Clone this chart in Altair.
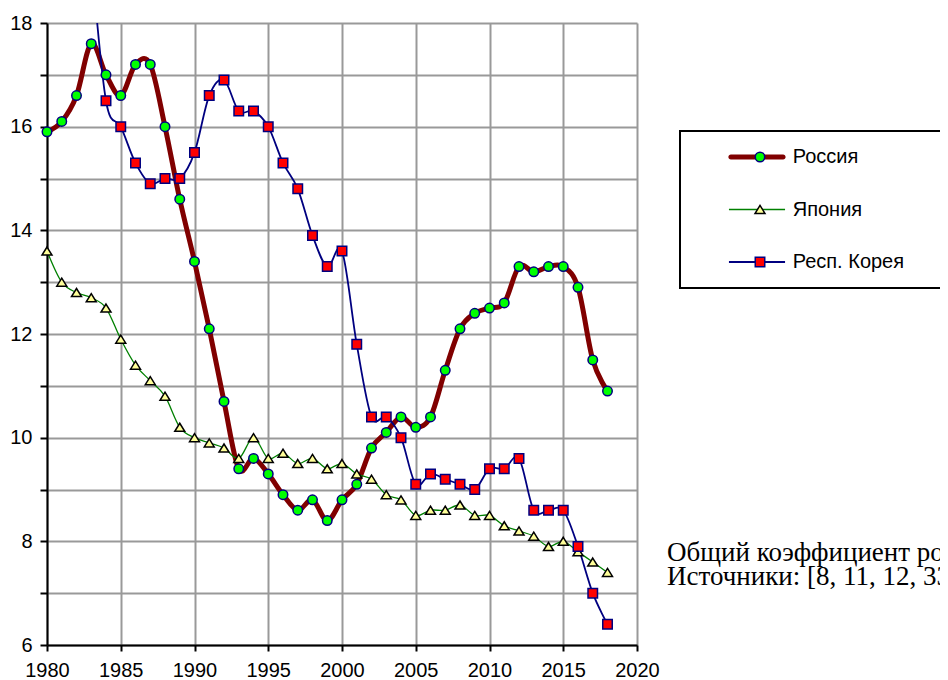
import altair as alt
import pandas as pd

# ---- data ----
years = list(range(1980, 2019))
russia = [15.9, 16.1, 16.6, 17.6, 17.0, 16.6, 17.2, 17.2, 16.0, 14.6,
          13.4, 12.1, 10.7, 9.4, 9.6, 9.3, 8.9, 8.6, 8.8, 8.4,
          8.8, 9.1, 9.8, 10.1, 10.4, 10.2, 10.4, 11.3, 12.1, 12.4,
          12.5, 12.6, 13.3, 13.2, 13.3, 13.3, 12.9, 11.5, 10.9]
japan = [13.6, 13.0, 12.8, 12.7, 12.5, 11.9, 11.4, 11.1, 10.8, 10.2,
         10.0, 9.9, 9.8, 9.6, 10.0, 9.6, 9.7, 9.5, 9.6, 9.4,
         9.5, 9.3, 9.2, 8.9, 8.8, 8.5, 8.6, 8.6, 8.7, 8.5,
         8.5, 8.3, 8.2, 8.1, 7.9, 8.0, 7.8, 7.6, 7.4]
korea_years = list(range(1983, 2019))
korea = [19.3, 16.5, 16.0, 15.3, 14.9, 15.0, 15.0,
         15.5, 16.6, 16.9, 16.3, 16.3, 16.0, 15.3, 14.8, 13.9, 13.3,
         13.6, 11.8, 10.4, 10.4, 10.0, 9.1, 9.3, 9.2, 9.1, 9.0,
         9.4, 9.4, 9.6, 8.6, 8.6, 8.6, 7.9, 7.0, 6.4]
countries = ["Россия", "Япония", "Респ. Корея"]
x_ticks = list(range(1980, 2021, 5))
y_ticks = list(range(6, 19))
note_lines = ["Общий коэффициент рож", "Источники: [8, 11, 12, 33"]

rows = []
for c, ys, vs in [(countries[0], years, russia),
                  (countries[1], years, japan),
                  (countries[2], korea_years, korea)]:
    for y, v in zip(ys, vs):
        rows.append({"country": c, "year": y, "value": v})
df = pd.DataFrame(rows)

# ---- styles ----
line_colors = ["#800000", "#008000", "#000080"]
line_widths = [5, 1.3, 1.8]
line_clip = [False, False, True]
# legend keys for the lines: bars of the lines' thickness
legend_line_paths = [
    "M-4.75,-0.45H4.75A0.45,0.45 0 0 1 4.75,0.45H-4.75A0.45,0.45 0 0 1 -4.75,-0.45Z",
    "M-5.1,-0.12H5.1V0.12H-5.1Z",
    "M-5.1,-0.16H5.1V0.16H-5.1Z",
]
marker_shapes = ["circle", "M0,-0.85L1.05,0.85L-1.05,0.85Z", "square"]
marker_fills = ["#00FF00", "#FFFF99", "#FF0000"]
marker_strokes = ["#000080", "#000000", "#000080"]

x_enc = alt.X("year:Q",
              scale=alt.Scale(domain=[1980, 2020], nice=False, zero=False),
              axis=alt.Axis(values=x_ticks, format="d", title=None, tickSize=6,
                            labelPadding=9, labelFlush=False, grid=True))
y_enc = alt.Y("value:Q",
              scale=alt.Scale(domain=[6, 18], nice=False, zero=False),
              axis=alt.Axis(values=y_ticks, title=None, tickSize=7, labelPadding=8,
                            labelExpr="datum.value % 2 == 0 ? datum.label : ''",
                            grid=True))

# the box of the legend runs past the right edge of the picture, as in the original
line_legend = alt.Legend(
    orient="none", legendX=633, legendY=108, direction="vertical",
    title="\u00a0", titleOrient="left", titleFontSize=1, titlePadding=51,
    padding=16, strokeColor="black", fillColor="white",
    symbolSize=121, symbolStrokeWidth=0, symbolOpacity=1,
    symbolFillColor="black", symbolStrokeColor="black",
    labelFontSize=20, labelFont="Liberation Sans", labelColor="black",
    labelOffset=25.7, labelLimit=400,
    labelExpr="datum.label + '\u2800\u2800'",
    rowPadding=32.5,
)
marker_legend = alt.Legend(
    orient="none", legendX=703, legendY=124, direction="vertical",
    title=None, padding=0,
    labelFontSize=20, labelExpr="'\u00a0'", rowPadding=32.5,
    symbolSize=90, symbolStrokeWidth=1.5, symbolOpacity=1,
    symbolFillColor="white", symbolStrokeColor="black",
)

base = alt.Chart(df)

line_layers = [
    base.transform_filter(alt.datum.country == c).mark_line(
        interpolate="cardinal", strokeWidth=w, clip=cl,
        strokeJoin="round", strokeCap="round",
    ).encode(
        x=x_enc, y=y_enc,
        color=alt.Color("country:N", scale=alt.Scale(domain=countries, range=line_colors),
                        legend=None),
    )
    for c, w, cl in zip(countries, line_widths, line_clip)
]

# invisible layer that only carries the line keys of the legend
key_layer = base.mark_point(filled=True, opacity=0).encode(
    x=x_enc, y=y_enc,
    shape=alt.Shape("country:N", scale=alt.Scale(domain=countries, range=legend_line_paths),
                    legend=line_legend),
    fill=alt.Fill("country:N", scale=alt.Scale(domain=countries, range=line_colors),
                  legend=line_legend),
)

points = base.transform_filter(alt.datum.value <= 18).mark_point(
    filled=True, opacity=1, strokeWidth=1.5, size=90,
).encode(
    x=x_enc, y=y_enc,
    shape=alt.Shape("country:N", scale=alt.Scale(domain=countries, range=marker_shapes),
                    legend=marker_legend),
    fill=alt.Fill("country:N", scale=alt.Scale(domain=countries, range=marker_fills),
                  legend=marker_legend),
    stroke=alt.Stroke("country:N", scale=alt.Scale(domain=countries, range=marker_strokes),
                      legend=marker_legend),
)

note = alt.Chart(pd.DataFrame({"note": ["\n".join(note_lines)]})).mark_text(
    align="left", baseline="alphabetic", font="Liberation Serif", fontSize=27,
    lineHeight=24.3, lineBreak="\n", color="black",
).encode(x=alt.value(620), y=alt.value(537.7), text="note:N")

chart = alt.layer(*line_layers, key_layer, points, note).resolve_scale(
    shape="independent", fill="independent", stroke="independent",
).properties(
    width=590, height=622,
    autosize=alt.AutoSizeParams(type="none"),
    padding={"left": 39, "top": 15, "right": 303, "bottom": 35},
).configure(font="Liberation Sans").configure_view(strokeWidth=0).configure_axis(
    labelFont="Liberation Sans", labelFontSize=20, labelColor="black",
    domainColor="black", domainWidth=2, tickColor="black", tickWidth=2,
    gridColor="#999999", gridWidth=2, gridOpacity=1,
).configure_legend(strokeWidth=2)

chart.save("out.html", embed_options={"renderer": "svg", "actions": False})
